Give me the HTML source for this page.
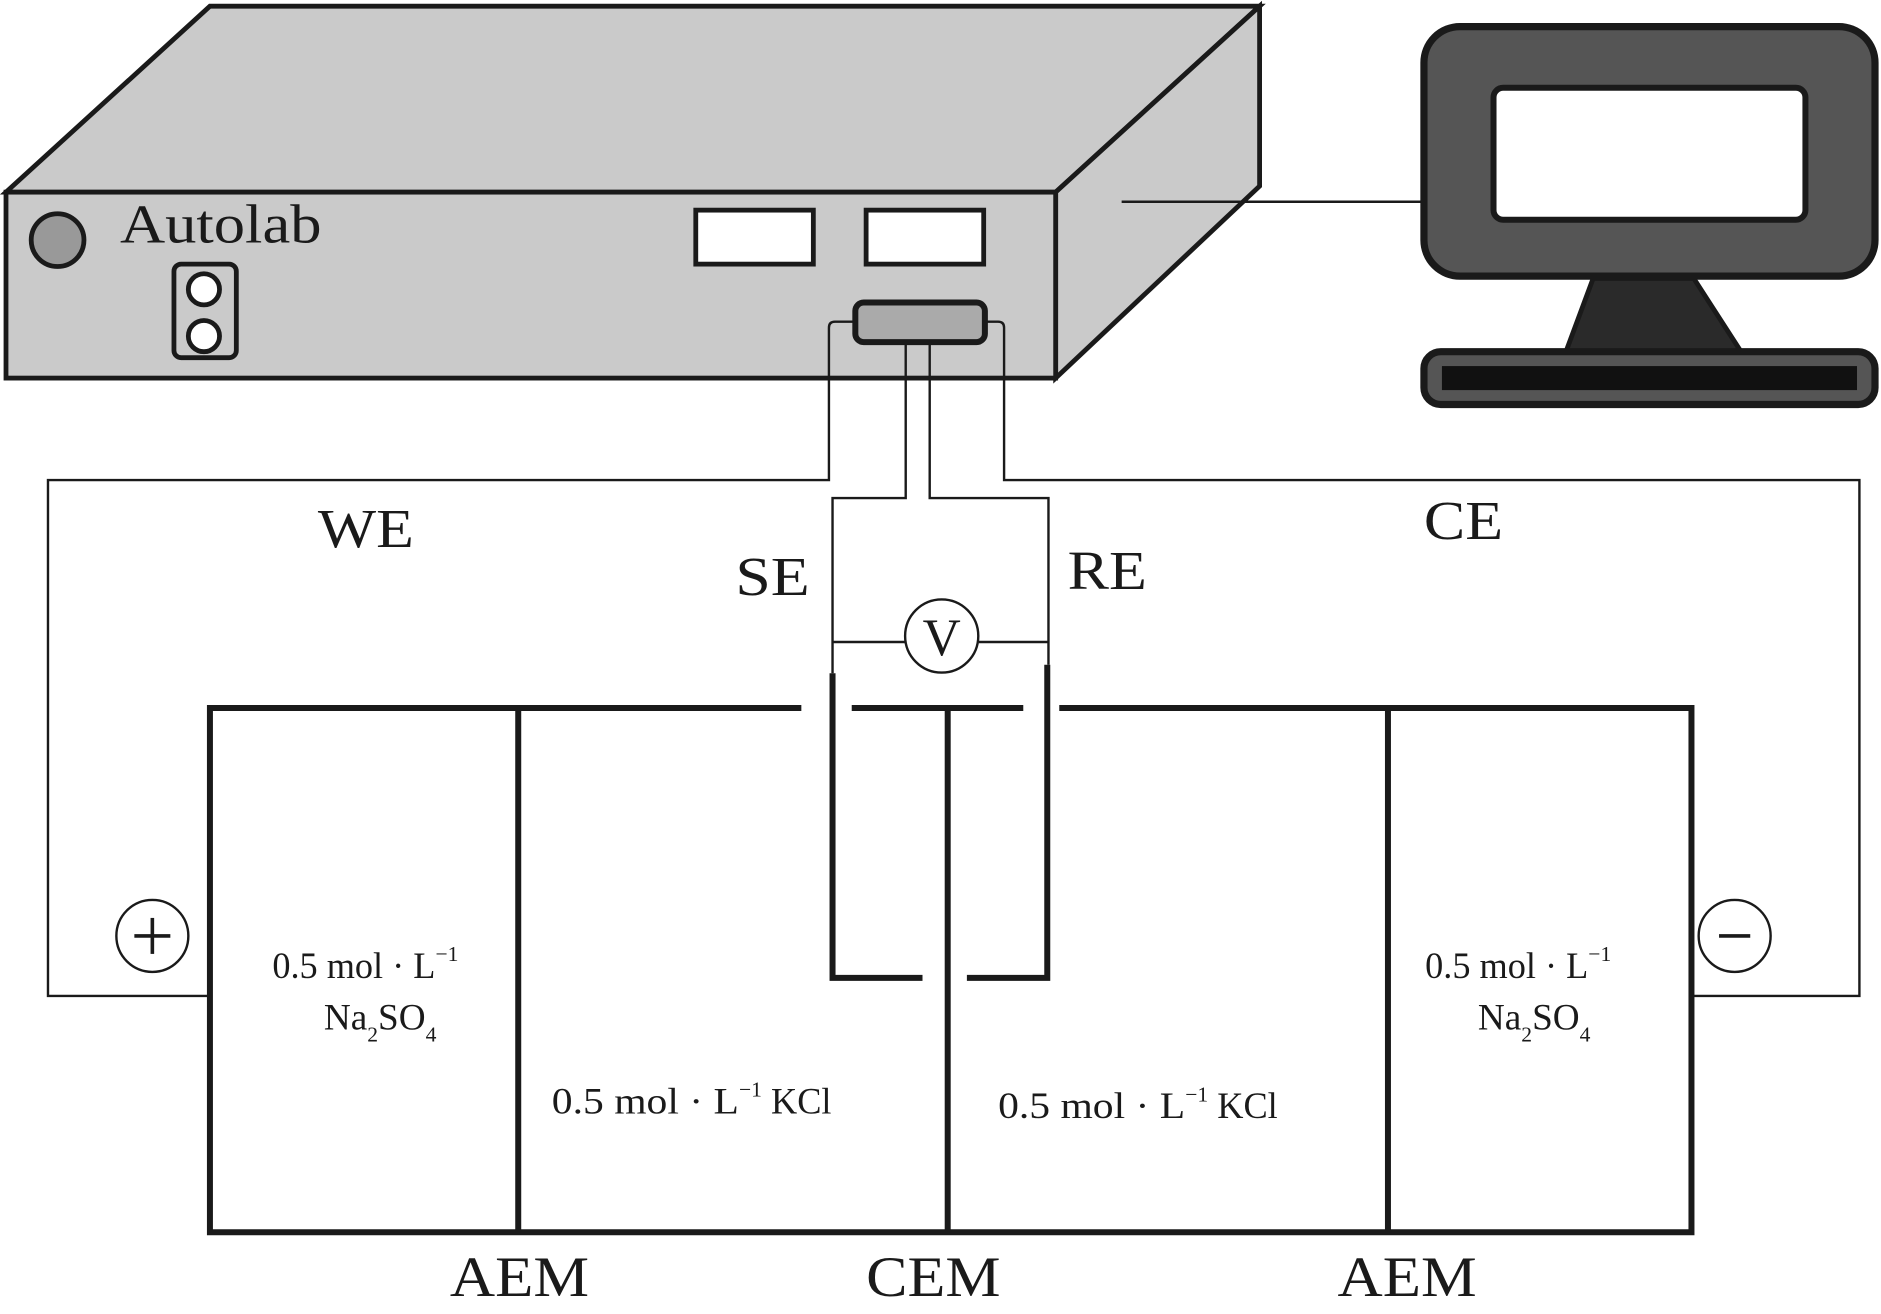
<!DOCTYPE html>
<html><head><meta charset="utf-8"><style>html,body{margin:0;padding:0;background:#fff}svg{display:block}</style></head>
<body>
<svg width="1881" height="1314" viewBox="0 0 1568 1095" xmlns="http://www.w3.org/2000/svg" font-family="Liberation Serif, serif">
<rect width="1568" height="1095" fill="#fff"/>
<!-- Autolab box -->
<g stroke="#1a1a1a" stroke-width="4" stroke-linejoin="miter">
<polygon points="5,160 175,5 1050,5 880,160" fill="#cacaca"/>
<polygon points="880,160 1050,5 1050,155 880,315" fill="#cacaca"/>
<rect x="5" y="160" width="875" height="155" fill="#cacaca"/>
<circle cx="48" cy="200" r="22" fill="#999"/>
<rect x="145" y="220" width="52" height="78" rx="6" fill="#cacaca"/>
<circle cx="170" cy="241" r="13" fill="#fff"/>
<circle cx="170" cy="280" r="13" fill="#fff"/>
<rect x="580" y="175" width="98" height="45" fill="#fff"/>
<rect x="722" y="175" width="98" height="45" fill="#fff"/>
<rect x="713" y="252" width="108" height="33" rx="7" fill="#aaa" stroke-width="5"/>
</g>
<text x="100" y="202" font-size="46" fill="#1a1a1a" textLength="168" lengthAdjust="spacingAndGlyphs">Autolab</text>
<line x1="935" y1="168" x2="1190" y2="168" stroke="#1a1a1a" stroke-width="2"/>
<!-- monitor -->
<g stroke="#1a1a1a" stroke-width="6">
<polygon points="1328,232 1412,232 1452,294 1305,294" fill="#2a2a2a" stroke-width="4"/>
<rect x="1187" y="22" width="376" height="208" rx="30" fill="#555"/>
<rect x="1245" y="73" width="260" height="110" rx="8" fill="#fff" stroke-width="5"/>
<rect x="1187" y="293" width="376" height="44" rx="14" fill="#555"/>
<rect x="1202" y="305" width="346" height="20" fill="#111" stroke="none"/>
</g>
<!-- wires -->
<g fill="none" stroke="#1a1a1a" stroke-width="2">
<path d="M713,268 H696 Q691,268 691,273 V400 H40 V830 H175"/>
<path d="M821,268 H832 Q837,268 837,273 V400 H1550 V830 H1410"/>
<path d="M755,285 V415 H694 V561"/>
<path d="M775,285 V415 H874 V554"/>
<line x1="694" y1="535" x2="755" y2="535"/>
<line x1="816" y1="535" x2="874" y2="535"/>
<circle cx="785" cy="530" r="30.5"/>
<circle cx="127" cy="780" r="30"/>
<circle cx="1446" cy="780" r="30"/>
</g>
<!-- tank -->
<g fill="none" stroke="#1a1a1a" stroke-width="5">
<path d="M668,590 H175 V1027 H1410 V590 H883"/>
<line x1="710" y1="590" x2="853" y2="590"/>
<line x1="432" y1="590" x2="432" y2="1027"/>
<line x1="790" y1="590" x2="790" y2="1027"/>
<line x1="1157" y1="590" x2="1157" y2="1027"/>
<path d="M694,561 V815 H769"/>
<path d="M873,554 V815 H806"/>
</g>
<g stroke="#1a1a1a" stroke-width="3">
<line x1="112" y1="780" x2="142" y2="780"/>
<line x1="127" y1="765" x2="127" y2="795"/>
<line x1="1433" y1="780" x2="1459" y2="780"/>
</g>
<g fill="#1a1a1a">
<text x="785" y="546" font-size="44" text-anchor="middle">V</text>
<text x="265" y="456" font-size="46" textLength="80" lengthAdjust="spacingAndGlyphs">WE</text>
<text x="1187" y="449" font-size="46" textLength="66" lengthAdjust="spacingAndGlyphs">CE</text>
<text x="613" y="496" font-size="46" textLength="62" lengthAdjust="spacingAndGlyphs">SE</text>
<text x="890" y="491" font-size="46" textLength="66" lengthAdjust="spacingAndGlyphs">RE</text>
<text x="375" y="1080" font-size="48" textLength="116" lengthAdjust="spacingAndGlyphs">AEM</text>
<text x="722" y="1080" font-size="48" textLength="112" lengthAdjust="spacingAndGlyphs">CEM</text>
<text x="1115" y="1080" font-size="48" textLength="116" lengthAdjust="spacingAndGlyphs">AEM</text>
<g font-size="31">
<text x="227" y="815"><tspan textLength="136" lengthAdjust="spacingAndGlyphs">0.5 mol · L</tspan><tspan font-size="18" dy="-14">−1</tspan></text>
<text x="270" y="858">Na<tspan font-size="18" dy="10">2</tspan><tspan dy="-10">SO</tspan><tspan font-size="18" dy="10">4</tspan></text>
<text x="1188" y="815"><tspan textLength="136" lengthAdjust="spacingAndGlyphs">0.5 mol · L</tspan><tspan font-size="18" dy="-14">−1</tspan></text>
<text x="1232" y="858">Na<tspan font-size="18" dy="10">2</tspan><tspan dy="-10">SO</tspan><tspan font-size="18" dy="10">4</tspan></text>
<text x="460" y="928"><tspan textLength="156" lengthAdjust="spacingAndGlyphs">0.5 mol · L</tspan><tspan font-size="18" dy="-14">−1</tspan><tspan dy="14" textLength="58" lengthAdjust="spacingAndGlyphs"> KCl</tspan></text>
<text x="832" y="932"><tspan textLength="156" lengthAdjust="spacingAndGlyphs">0.5 mol · L</tspan><tspan font-size="18" dy="-14">−1</tspan><tspan dy="14" textLength="58" lengthAdjust="spacingAndGlyphs"> KCl</tspan></text>
</g>
</g>
</svg>
</body></html>
